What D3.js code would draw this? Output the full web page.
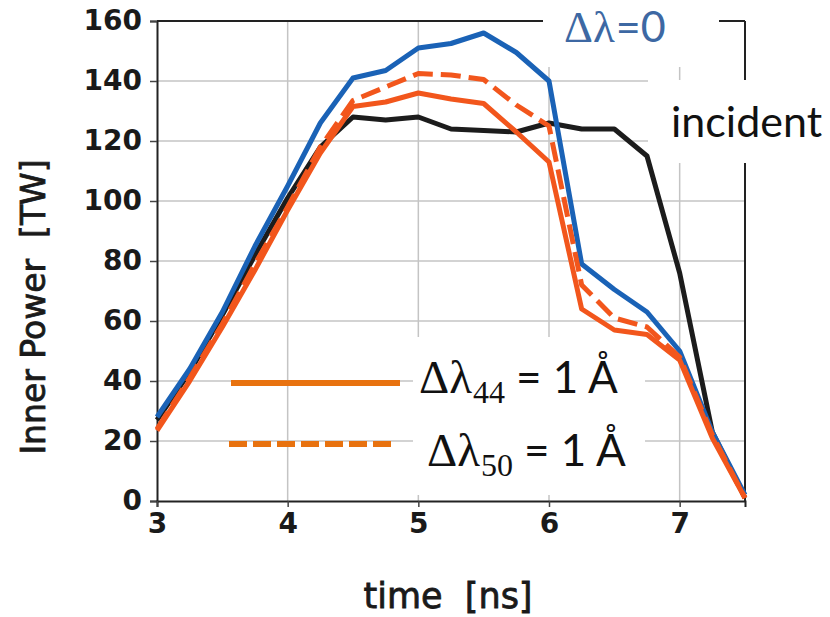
<!DOCTYPE html>
<html><head><meta charset="utf-8">
<script src="https://cdn.jsdelivr.net/npm/d3@7/dist/d3.min.js"></script>
<style>body{margin:0;background:#fff}svg{display:block}
.serif{font-family:"Liberation Serif","Times New Roman","DejaVu Serif",serif}
.sans2{font-family:Lato,"Open Sans",sans-serif}
.pre{white-space:pre}</style>
</head><body><svg id="c" width="830" height="617"></svg>
<script>
// ---- data ----
const times    = [3, 3.25, 3.5, 3.75, 4, 4.25, 4.5, 4.75, 5, 5.25, 5.5, 5.75, 6, 6.25, 6.5, 6.75, 7, 7.25, 7.5];
const incident = [27, 43, 62, 82, 101, 118, 128, 127, 128, 124, 123.5, 123, 126, 124, 124, 115, 76, 23, 1];
const dl0      = [28, 44, 63, 85, 105, 126, 141, 143.5, 151, 152.5, 156, 149.5, 140, 79, 70.5, 63, 50, 23, 2];
const dl44     = [23.5, 40, 58, 77, 97, 116, 131.5, 133, 136, 134, 132.5, 123, 113, 64, 57, 55.5, 47, 21, 1];
const dl50     = [24, 41, 59, 79, 98, 118, 133.5, 138, 142.5, 142, 140.5, 132, 125, 72, 61, 58, 48, 22, 1];
const xTicks   = [3, 4, 5, 6, 7];
const yTicks   = [0, 20, 40, 60, 80, 100, 120, 140, 160];
const xTitle   = "time  [ns]";
const yTitle   = "Inner Power  [TW]";

const svg = d3.select("#c");
svg.append("rect").attr("width", 830).attr("height", 617).attr("fill", "#fff");

const x = d3.scaleLinear().domain([3, 7.5]).range([157, 745]);
const y = d3.scaleLinear().domain([0, 160]).range([501, 21]);

// grid
const grid = svg.append("g").attr("stroke", "#c4c4c4").attr("stroke-width", 1.5);
grid.selectAll("line.v").data(xTicks.filter(d => d > 3)).join("line")
  .attr("x1", d => x(d)).attr("x2", d => x(d)).attr("y1", y(160)).attr("y2", y(0));
grid.selectAll("line.h").data(yTicks.filter(d => d > 0 && d < 160)).join("line").attr("class","h")
  .attr("x1", x(3)).attr("x2", x(7.5)).attr("y1", d => y(d)).attr("y2", d => y(d));

// axes
const axL = svg.append("g").attr("transform", `translate(${x(3)},0)`)
  .call(d3.axisLeft(y).tickValues(yTicks).tickFormat(d3.format("d")).tickSize(7).tickPadding(8));
const axB = svg.append("g").attr("transform", `translate(0,${y(0)})`)
  .call(d3.axisBottom(x).tickValues(xTicks).tickFormat(d3.format("d")).tickSize(6).tickPadding(6));
[axL, axB].forEach(a => {
  a.select(".domain").attr("stroke", "#222").attr("stroke-width", 2);
  a.selectAll(".tick line").attr("stroke", "#444").attr("stroke-width", 1.5);
  a.selectAll(".tick text").attr("fill", "#1a1a1a")
    .attr("font-family", "'DejaVu Sans', sans-serif").attr("font-weight", "bold").attr("font-size", 28);
});
// top & right frame
svg.append("line").attr("x1", x(3)).attr("x2", x(7.5)).attr("y1", y(160)).attr("y2", y(160))
  .attr("stroke", "#222").attr("stroke-width", 2);
svg.append("line").attr("x1", x(7.5)).attr("x2", x(7.5)).attr("y1", y(160)).attr("y2", y(0))
  .attr("stroke", "#222").attr("stroke-width", 2);

// white annotation boxes
svg.append("rect").attr("x", 543).attr("y", 0).attr("width", 176).attr("height", 67).attr("fill", "#fff");
svg.append("rect").attr("x", 648).attr("y", 80).attr("width", 182).attr("height", 83).attr("fill", "#fff");
svg.append("rect").attr("x", 413).attr("y", 337).attr("width", 232).attr("height", 158).attr("fill", "#fff");

// lines
const line = d3.line().x((d, i) => x(times[i])).y(d => y(d));
const series = [
  {v: incident, c: "#1c1c1c", w: 5, dash: null},
  {v: dl0, c: "#1a62b6", w: 5, dash: null},
  {v: dl44, c: "#f2561c", w: 5, dash: null},
  {v: dl50, c: "#f2561c", w: 5, dash: "20,8"},
];
svg.append("g").selectAll("path").data(series).join("path")
  .attr("d", d => line(d.v)).attr("fill", "none")
  .attr("stroke", d => d.c).attr("stroke-width", d => d.w)
  .attr("stroke-linejoin", "round")
  .attr("stroke-dasharray", d => d.dash);

// legend
const lg = svg.append("g");
lg.append("line").attr("x1", 231).attr("x2", 400).attr("y1", 383).attr("y2", 383)
  .attr("stroke", "#e8720f").attr("stroke-width", 6);
lg.append("line").attr("x1", 229).attr("x2", 394).attr("y1", 444).attr("y2", 444)
  .attr("stroke", "#e8720f").attr("stroke-width", 6).attr("stroke-dasharray", "18,6");
function legendText(xp, yb, sub, xEq) {
  const g = lg.append("text").attr("class", "serif").attr("x", xp).attr("y", yb).attr("fill", "#111")
    .attr("font-size", 47).text("Δλ");
  const w = g.node().getComputedTextLength();
  lg.append("text").attr("class", "serif").attr("x", xp + w + 1).attr("y", yb + 10).attr("fill", "#111")
    .attr("font-size", 32).text(sub);
  lg.append("text").attr("class", "sans2").attr("x", xEq).attr("y", yb).attr("fill", "#111")
    .attr("font-size", 44).text("= 1 Å");
}
legendText(419, 393, "44", 516);
legendText(427, 466, "50", 524);

// annotations
const t0 = svg.append("text").attr("class", "serif").attr("x", 564).attr("y", 42).attr("fill", "#3d68a3")
  .attr("font-size", 45).text("Δλ");
const w0 = t0.node().getComputedTextLength();
svg.append("text").attr("class", "sans2").attr("x", 564 + w0 + 1).attr("y", 42).attr("fill", "#3d68a3")
  .attr("font-size", 43).text("=0");
svg.append("text").attr("class", "sans2").attr("x", 671).attr("y", 137).attr("fill", "#111")
  .attr("font-size", 43).text("incident");

// axis titles
svg.append("text").attr("class", "pre").attr("x", 448).attr("y", 608).attr("text-anchor", "middle")
  .attr("font-family", "'DejaVu Sans', sans-serif").attr("font-size", 35).attr("fill", "#1a1a1a")
  .attr("stroke", "#1a1a1a").attr("stroke-width", 0.8).text(xTitle);
svg.append("text").attr("class", "pre").attr("transform", "translate(45,307) rotate(-90)").attr("text-anchor", "middle")
  .attr("font-family", "'DejaVu Sans', sans-serif").attr("font-size", 33).attr("fill", "#1a1a1a")
  .attr("stroke", "#1a1a1a").attr("stroke-width", 0.8).text(yTitle);
</script></body></html>
